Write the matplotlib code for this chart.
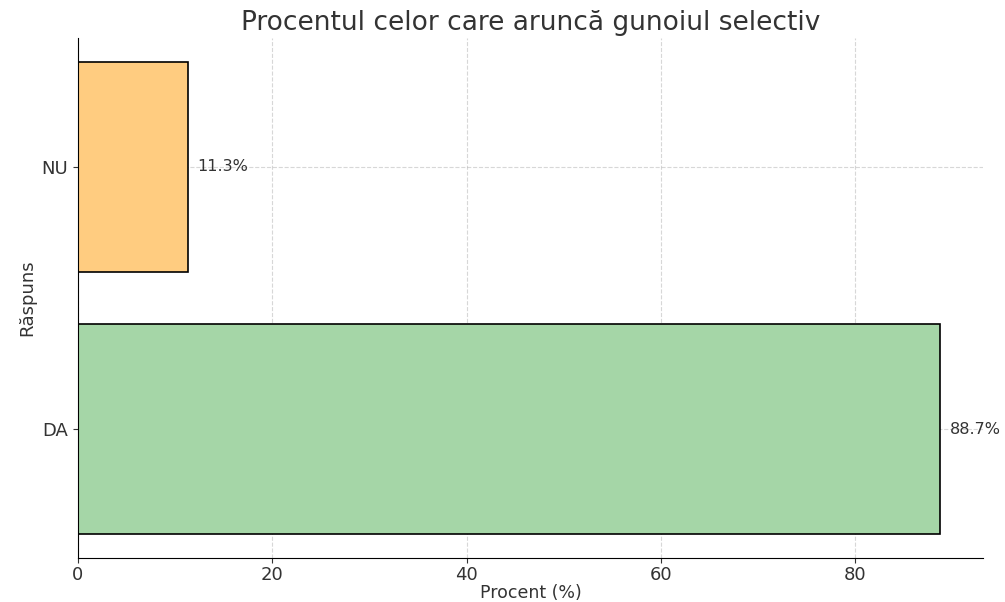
import matplotlib.pyplot as plt

# Procentul celor care aruncă gunoiul selectiv
raspunsuri = ["DA", "NU"]
procente = [88.7, 11.3]
culori = ["#a5d6a7", "#ffcc80"]

fig = plt.figure(figsize=(10.05, 6.02), dpi=100)
ax = fig.add_axes([0.0776, 0.0731, 0.9005, 0.8638])

bars = ax.barh(raspunsuri, procente, color=culori, edgecolor="black", linewidth=1.2, height=0.8)

for bar, val in zip(bars, procente):
    ax.text(val + 1, bar.get_y() + bar.get_height() / 2, f"{val}%",
            va="center", ha="left", fontsize=11.5, color="#333333")

ax.set_xlim(0, max(procente) * 1.05)
ax.set_title("Procentul celor care aruncă gunoiul selectiv", fontsize=19, color="#333333", pad=6)
ax.set_xlabel("Procent (%)", fontsize=12.5, color="#333333", labelpad=0)
ax.set_ylabel("Răspuns", fontsize=13, color="#333333", labelpad=4)
ax.tick_params(labelsize=13, colors="#333333")
ax.tick_params(axis="x", pad=2)
ax.grid(True, linestyle="--", alpha=0.5)
ax.set_axisbelow(True)
ax.spines["top"].set_visible(False)
ax.spines["right"].set_visible(False)

plt.savefig("out.png", dpi=100)
